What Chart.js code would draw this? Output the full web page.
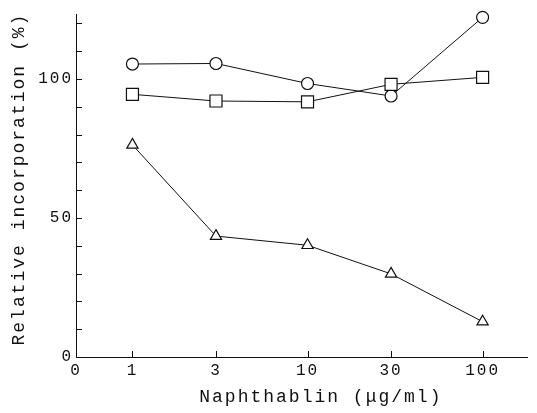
<!DOCTYPE html>
<html>
<head>
<meta charset="utf-8">
<script src="https://cdn.jsdelivr.net/npm/chart.js@4/dist/chart.umd.min.js"></script>
<style>
  body { margin: 0; background: #fff; }
  #wrap { width: 537px; height: 413px; }
</style>
</head>
<body>
<div id="wrap"><canvas id="incorporationChart"></canvas></div>
<script>
// dose levels (µg/ml) and the tick labels on the x axis ("0" sits at the axis start)
const doses = [1, 3, 10, 30, 100];
const xTickLabels = ['0', '1', '3', '10', '30', '100'];
const yTicks = [0, 10, 20, 30, 40, 50, 60, 70, 80, 90, 100, 110, 120];
const yLabelled = [0, 50, 100];

// relative incorporation (%)
const circleValues = [105.4, 105.6, 98.4, 93.9, 122.2];
const squareValues = [94.5, 92.1, 91.8, 98.1, 100.6];
const triangleValues = [76.3, 43.5, 40.2, 29.9, 12.7];

const X_MIN = 0.476; // where the "0" label goes on the log axis
const X_MAX = 180;
const FONT = '"Liberation Mono", "DejaVu Sans Mono", monospace';

const toPoints = values => doses.map((d, i) => ({ x: d, y: values[i] }));

function series(values, style, radius) {
  return {
    data: toPoints(values),
    borderColor: '#111',
    borderWidth: 1,
    pointStyle: style,
    pointRadius: radius,
    pointBackgroundColor: '#fff',
    pointBorderColor: '#111',
    pointBorderWidth: 1.2,
    tension: 0,
    clip: false
  };
}

// ticks on this figure point into the plot, so draw them by hand
const inwardTicks = {
  id: 'inwardTicks',
  beforeDraw(chart) {
    chart.ctx.letterSpacing = '2px'; // typewriter-ish spacing
  },
  afterDraw(chart) {
    const { ctx, chartArea, scales } = chart;
    ctx.save();
    ctx.strokeStyle = '#111';
    ctx.lineWidth = 1;
    ctx.beginPath();
    yTicks.forEach(v => {
      const y = Math.round(scales.y.getPixelForValue(v)) + 0.5;
      ctx.moveTo(chartArea.left, y);
      ctx.lineTo(chartArea.left + 6, y);
    });
    doses.forEach(d => {
      const x = Math.round(scales.x.getPixelForValue(d)) + 0.5;
      ctx.moveTo(x, chartArea.bottom);
      ctx.lineTo(x, chartArea.bottom - 6);
    });
    ctx.stroke();
    ctx.restore();
  }
};

const ctx = document.getElementById('incorporationChart').getContext('2d');

new Chart(ctx, {
  type: 'line',
  data: {
    datasets: [
      series(squareValues, 'rect', 8.5),
      series(circleValues, 'circle', 6),
      series(triangleValues, 'triangle', 6.5)
    ]
  },
  options: {
    responsive: true,
    maintainAspectRatio: false,
    animation: false,
    layout: { padding: { top: 14, right: 5, left: 0, bottom: 0 } },
    plugins: {
      legend: { display: false },
      tooltip: { enabled: false }
    },
    scales: {
      x: {
        type: 'logarithmic',
        min: X_MIN,
        max: X_MAX,
        afterBuildTicks: scale => {
          scale.ticks = [X_MIN, ...doses].map(v => ({ value: v }));
        },
        afterFit: scale => { scale.height = 56; },
        border: { display: true, color: '#111', width: 1 },
        grid: { display: false, drawTicks: false },
        ticks: {
          padding: 4,
          color: '#111',
          maxRotation: 0,
          autoSkip: false,
          font: { family: FONT, size: 16 },
          callback: (value, index) => xTickLabels[index]
        },
        title: {
          display: true,
          text: '   Naphthablin (μg/ml)',
          color: '#111',
          padding: { top: 0, bottom: 5 },
          font: { family: FONT, size: 18 }
        }
      },
      y: {
        min: 0,
        max: 123.4,
        afterBuildTicks: scale => {
          scale.ticks = yTicks.map(v => ({ value: v }));
        },
        afterFit: scale => { scale.width = 76; },
        border: { display: true, color: '#111', width: 1 },
        grid: { display: false, drawTicks: false },
        ticks: {
          padding: 3,
          color: '#111',
          autoSkip: false,
          font: { family: FONT, size: 16 },
          callback: value => yLabelled.includes(value) ? String(value) : ''
        },
        title: {
          display: true,
          text: ' Relative incorporation (%)',
          color: '#111',
          padding: { top: 8, bottom: 0 },
          font: { family: FONT, size: 18 }
        }
      }
    }
  },
  plugins: [inwardTicks]
});
</script>
</body>
</html>
